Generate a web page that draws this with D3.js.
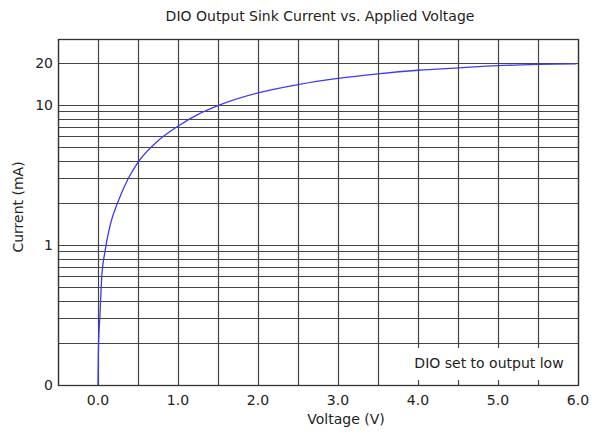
<!DOCTYPE html>
<html lang="en">
  <head>
    <meta charset="UTF-8" />
    <title>DIO Output Sink Current vs. Applied Voltage</title>
    <script src="https://cdnjs.cloudflare.com/ajax/libs/d3/7.8.5/d3.min.js"></script>
    <style>
      html,
      body {
        margin: 0;
        background: #fff;
        font-family: 'DejaVu Sans', sans-serif;
      }
      text {
        fill: #222;
      }
    </style>
  </head>
  <body>
    <div id="chart"></div>
    <script>
      // values
      const voltage = [0, 0.004, 0.025, 0.046, 0.0875, 0.15, 0.254, 0.375, 0.504, 0.75, 0.984, 1.275, 1.5, 2.0, 2.5, 3.0, 3.5, 4.0, 4.5, 5.0, 5.5, 5.98];
      const current = [0.1, 0.17, 0.32, 0.58, 0.9, 1.37, 2.06, 2.96, 3.92, 5.55, 6.96, 8.7, 9.9, 12.2, 14.0, 15.5, 16.7, 17.7, 18.4, 19.1, 19.5, 19.7];

      const xTicks = [0, 1, 2, 3, 4, 5, 6];
      const xGrid = [-0.5, 0, 0.5, 1, 1.5, 2, 2.5, 3, 3.5, 4, 4.5, 5, 5.5, 6];
      const yGrid = [0.2, 0.3, 0.4, 0.5, 0.6, 0.7, 0.8, 0.9, 1, 2, 3, 4, 5, 6, 7, 8, 9, 10, 20];
      const yTicks = [0.1, 1, 10, 20];
      const yTickLabels = ["0", "1", "10", "20"];

      const W = 592, H = 437;
      const plot = { left: 58, right: 578, top: 39, bottom: 385 };

      const x = d3.scaleLinear().domain([-0.5, 6]).range([plot.left, plot.right]);
      const y = d3.scaleLog().domain([0.1, 29.6]).range([plot.bottom, plot.top]);

      const svg = d3.select("#chart").append("svg")
        .attr("width", W).attr("height", H);

      // grid
      svg.append("g").selectAll("line").data(yGrid).join("line")
        .attr("x1", plot.left).attr("x2", plot.right)
        .attr("y1", d => Math.round(y(d)) + 0.5).attr("y2", d => Math.round(y(d)) + 0.5)
        .attr("stroke", "#444").attr("stroke-width", 1.2);

      svg.append("g").selectAll("line").data(xGrid).join("line")
        .attr("x1", d => Math.round(x(d)) + 0.5).attr("x2", d => Math.round(x(d)) + 0.5)
        .attr("y1", plot.top).attr("y2", plot.bottom)
        .attr("stroke", "#444").attr("stroke-width", 1.2);

      svg.append("rect")
        .attr("x", plot.left + 0.5).attr("y", plot.top + 0.5)
        .attr("width", plot.right - plot.left).attr("height", plot.bottom - plot.top)
        .attr("fill", "none").attr("stroke", "#333").attr("stroke-width", 1.3);

      // curve
      const line = d3.line()
        .x((d, i) => x(voltage[i]))
        .y(d => y(d))
        .curve(d3.curveMonotoneX);

      svg.append("path")
        .datum(current)
        .attr("fill", "none")
        .attr("stroke", "#3b3bf5")
        .attr("stroke-width", 1.3)
        .attr("d", line);

      // note box
      svg.append("rect")
        .attr("x", 408).attr("y", 348)
        .attr("width", plot.right - 408 - 1).attr("height", 32)
        .attr("fill", "#fff");
      svg.append("text")
        .attr("x", 489).attr("y", 368)
        .attr("text-anchor", "middle")
        .attr("font-size", 14)
        .text("DIO set to output low");

      // ticks
      svg.append("g").selectAll("text").data(xTicks).join("text")
        .attr("x", d => x(d)).attr("y", 405)
        .attr("text-anchor", "middle")
        .attr("font-size", 14)
        .text(d => d.toFixed(1));

      svg.append("g").selectAll("text").data(yTicks).join("text")
        .attr("x", 53).attr("y", d => y(d) + 5)
        .attr("text-anchor", "end")
        .attr("font-size", 14)
        .text((d, i) => yTickLabels[i]);

      // titles
      svg.append("text")
        .attr("x", 320).attr("y", 21)
        .attr("text-anchor", "middle")
        .attr("font-size", 14)
        .text("DIO Output Sink Current vs. Applied Voltage");

      svg.append("text")
        .attr("x", 346).attr("y", 424)
        .attr("text-anchor", "middle")
        .attr("font-size", 14)
        .text("Voltage (V)");

      svg.append("text")
        .attr("transform", "translate(23,207) rotate(-90)")
        .attr("text-anchor", "middle")
        .attr("font-size", 14)
        .text("Current (mA)");
    </script>
  </body>
</html>
